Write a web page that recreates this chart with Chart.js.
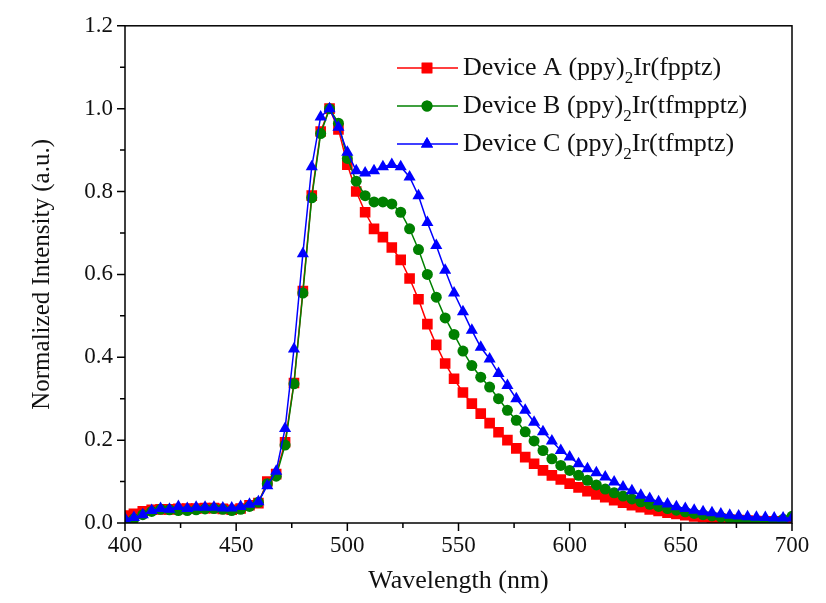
<!DOCTYPE html>
<html>
<head>
<meta charset="utf-8">
<title>Normalized EL spectra</title>
<script src="https://cdn.jsdelivr.net/npm/chart.js@4.4.0/dist/chart.umd.min.js"></script>
<style>
    html, body { margin: 0; padding: 0; background: #fff; }
    #wrap { width: 826px; height: 603px; position: relative; }
</style>
</head>
<body>
<div id="wrap"><canvas id="spectra"></canvas></div>
<script>
// Wavelength grid (nm)
const wavelengths = [
    400, 404, 408, 412, 416, 420, 424, 428, 432, 436, 440, 444, 448, 452, 456,
    460, 464, 468, 472, 476, 480, 484, 488, 492, 496, 500,
    504, 508, 512, 516, 520, 524, 528, 532, 536, 540, 544, 548, 552, 556, 560,
    564, 568, 572, 576, 580, 584, 588, 592, 596, 600, 604, 608, 612, 616, 620,
    624, 628, 632, 636, 640, 644, 648, 652, 656, 660, 664, 668, 672, 676, 680,
    684, 688, 692, 696, 700
];

// Device A (ppy)2Ir(fpptz)
const deviceA = [
    0.018, 0.022, 0.028, 0.032, 0.033, 0.033, 0.034, 0.035, 0.035, 0.036, 0.036, 0.034, 0.032, 0.035, 0.043,
    0.048, 0.100, 0.118, 0.195, 0.338, 0.560, 0.790, 0.945, 1.000, 0.950, 0.865,
    0.800, 0.750, 0.710, 0.690, 0.665, 0.635, 0.590, 0.540, 0.480, 0.430, 0.385, 0.348, 0.315, 0.288, 0.264,
    0.241, 0.219, 0.200, 0.180, 0.159, 0.143, 0.127, 0.115, 0.105, 0.095, 0.086, 0.077, 0.069, 0.062, 0.055,
    0.049, 0.043, 0.038, 0.033, 0.029, 0.025, 0.022, 0.019, 0.016, 0.014, 0.012, 0.010, 0.008, 0.007, 0.006,
    0.005, 0.004, 0.004, 0.003, 0.003
];

// Device B (ppy)2Ir(tfmpptz)
const deviceB = [
    0.004, 0.010, 0.020, 0.028, 0.033, 0.032, 0.030, 0.030, 0.032, 0.034, 0.035, 0.033, 0.030, 0.033, 0.040,
    0.050, 0.095, 0.113, 0.188, 0.336, 0.555, 0.785, 0.940, 1.000, 0.965, 0.880,
    0.825, 0.790, 0.775, 0.775, 0.770, 0.750, 0.710, 0.660, 0.600, 0.545, 0.495, 0.455, 0.415, 0.380, 0.352,
    0.328, 0.300, 0.272, 0.248, 0.220, 0.198, 0.175, 0.155, 0.139, 0.127, 0.115, 0.103, 0.092, 0.082, 0.073,
    0.065, 0.058, 0.051, 0.045, 0.040, 0.035, 0.031, 0.027, 0.023, 0.020, 0.017, 0.014, 0.011, 0.009, 0.006,
    0.003, 0.002, 0.004, 0.009, 0.016
];

// Device C (ppy)2Ir(tfmptz)
const deviceC = [
    0.010, 0.013, 0.020, 0.030, 0.035, 0.033, 0.040, 0.035, 0.038, 0.038, 0.038, 0.036, 0.036, 0.040, 0.045,
    0.051, 0.090, 0.125, 0.228, 0.420, 0.650, 0.860, 0.980, 1.000, 0.955, 0.895,
    0.850, 0.845, 0.850, 0.860, 0.865, 0.860, 0.835, 0.790, 0.725, 0.670, 0.610, 0.555, 0.510, 0.465, 0.424,
    0.396, 0.361, 0.332, 0.300, 0.272, 0.243, 0.220, 0.198, 0.175, 0.159, 0.143, 0.131, 0.121, 0.111, 0.099,
    0.087, 0.078, 0.067, 0.059, 0.051, 0.046, 0.039, 0.035, 0.031, 0.027, 0.025, 0.022, 0.019, 0.017, 0.015,
    0.014, 0.013, 0.012, 0.012, 0.012
];

// Legend text: [before subscript, subscript, after]
const legendA = ['Device A (ppy)', '2', 'Ir(fpptz)'];
const legendB = ['Device B (ppy)', '2', 'Ir(tfmpptz)'];
const legendC = ['Device C (ppy)', '2', 'Ir(tfmptz)'];

const SERIF = '"Liberation Serif", "Times New Roman", serif';

const toPoints = (ys) => wavelengths.map((x, i) => ({ x: x, y: ys[i] }));

function series(label, parts, ys, color, style, radius, order) {
    return {
        label: label,
        legendParts: parts,
        data: toPoints(ys),
        borderColor: color,
        backgroundColor: color,
        borderWidth: 1.5,
        pointStyle: style,
        pointRadius: radius,
        pointBorderWidth: 0,
        pointBackgroundColor: color,
        tension: 0,
        order: order
    };
}

// Minor/major ticks, box frame and legend drawn on top
const framePlugin = {
    id: 'frame',
    afterDraw(chart) {
        const { ctx, chartArea: a, scales: { x, y } } = chart;
        ctx.save();
        ctx.strokeStyle = '#000';
        ctx.lineWidth = 1.5;
        ctx.strokeRect(a.left, a.top, a.right - a.left, a.bottom - a.top);

        ctx.beginPath();
        for (let v = x.min; v <= x.max; v += 25) {
            const px = x.getPixelForValue(v);
            const len = v % 50 === 0 ? 8 : 5;
            ctx.moveTo(px, a.bottom);
            ctx.lineTo(px, a.bottom + len);
        }
        for (let k = 0; k <= 12; k++) {
            const py = y.getPixelForValue(k / 10);
            const len = k % 2 === 0 ? 8 : 5;
            ctx.moveTo(a.left, py);
            ctx.lineTo(a.left - len, py);
        }
        ctx.stroke();

        // legend
        const rows = [68, 106, 144];
        chart.data.datasets.forEach((ds, i) => {
            const yy = rows[i];
            ctx.strokeStyle = ds.borderColor;
            ctx.lineWidth = 1.5;
            ctx.beginPath();
            ctx.moveTo(397, yy);
            ctx.lineTo(458, yy);
            ctx.stroke();
            ctx.fillStyle = ds.backgroundColor;
            Chart.helpers.drawPoint(ctx, {
                pointStyle: ds.pointStyle,
                radius: ds.pointRadius,
                borderWidth: 0,
                rotation: 0
            }, 427, yy);
            ctx.fill();

            const p = ds.legendParts;
            ctx.fillStyle = '#111';
            ctx.textBaseline = 'middle';
            ctx.textAlign = 'left';
            let tx = 463;
            ctx.font = '26px ' + SERIF;
            ctx.fillText(p[0], tx, yy);
            tx += ctx.measureText(p[0]).width;
            ctx.font = '17px ' + SERIF;
            ctx.fillText(p[1], tx, yy + 11);
            tx += ctx.measureText(p[1]).width;
            ctx.font = '26px ' + SERIF;
            ctx.fillText(p[2], tx, yy);
        });
        ctx.restore();
    }
};

const ctx = document.getElementById('spectra').getContext('2d');
new Chart(ctx, {
    type: 'line',
    data: {
        datasets: [
            series('Device A', legendA, deviceA, '#ff0000', 'rect', 7.5, 3),
            series('Device B', legendB, deviceB, '#008000', 'circle', 5.5, 2),
            series('Device C', legendC, deviceC, '#0000ff', 'triangle', 7, 1)
        ]
    },
    options: {
        responsive: true,
        maintainAspectRatio: false,
        animation: false,
        layout: { autoPadding: false, padding: { top: 24, right: 34, left: 0, bottom: 0 } },
        plugins: {
            legend: { display: false },
            tooltip: { enabled: false }
        },
        scales: {
            x: {
                type: 'linear',
                min: 400,
                max: 700,
                grid: { display: false, drawTicks: false },
                border: { display: false },
                ticks: {
                    stepSize: 25,
                    autoSkip: false,
                    maxRotation: 0,
                    padding: 9,
                    color: '#111',
                    font: { family: SERIF, size: 23 },
                    callback: (v) => (v % 50 === 0 ? String(v) : '')
                },
                title: {
                    display: true,
                    text: 'Wavelength (nm)',
                    color: '#111',
                    font: { family: SERIF, size: 26 },
                    padding: { top: 0, bottom: 6 }
                },
                afterFit(s) { s.height = 80; }
            },
            y: {
                min: 0,
                max: 1.2,
                grid: { display: false, drawTicks: false },
                border: { display: false },
                ticks: {
                    stepSize: 0.1,
                    autoSkip: false,
                    padding: 12,
                    color: '#111',
                    font: { family: SERIF, size: 23 },
                    callback: (v) => (Math.round(v * 10) % 2 === 0 ? v.toFixed(1) : '')
                },
                title: {
                    display: true,
                    text: 'Normalized Intensity (a.u.)',
                    color: '#111',
                    font: { family: SERIF, size: 25 },
                    padding: { top: 27, bottom: 0 }
                },
                afterFit(s) { s.width = 125; }
            }
        }
    },
    plugins: [framePlugin]
});
</script>
</body>
</html>
